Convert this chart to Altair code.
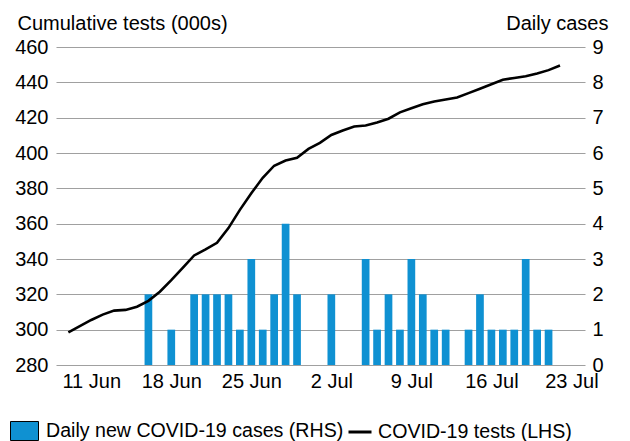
import altair as alt
import pandas as pd

# ---- data ----
line_dates = [
    "2020-06-09", "2020-06-10", "2020-06-11", "2020-06-12", "2020-06-13", "2020-06-14",
    "2020-06-15", "2020-06-16", "2020-06-17", "2020-06-18", "2020-06-19", "2020-06-20",
    "2020-06-21", "2020-06-22", "2020-06-23", "2020-06-24", "2020-06-25", "2020-06-26",
    "2020-06-27", "2020-06-28", "2020-06-29", "2020-06-30", "2020-07-01", "2020-07-02",
    "2020-07-03", "2020-07-04", "2020-07-05", "2020-07-06", "2020-07-07", "2020-07-08",
    "2020-07-09", "2020-07-10", "2020-07-11", "2020-07-12", "2020-07-13", "2020-07-14",
    "2020-07-15", "2020-07-16", "2020-07-17", "2020-07-18", "2020-07-19", "2020-07-20",
    "2020-07-21", "2020-07-22",
]
tests = [
    298.5, 302.0, 305.5, 308.5, 310.8, 311.2,
    313.0, 316.3, 321.5, 328.0, 335.0, 342.0,
    345.4, 349.2, 357.5, 367.8, 377.2, 386.0,
    392.8, 395.7, 397.3, 402.3, 405.7, 410.2,
    412.7, 415.0, 415.6, 417.3, 419.4, 423.0,
    425.3, 427.6, 429.1, 430.3, 431.4, 433.9,
    436.4, 438.9, 441.5, 442.5, 443.4, 445.0,
    446.9, 449.5,
]

bar_dates = [
    "2020-06-16", "2020-06-18", "2020-06-20", "2020-06-21", "2020-06-22", "2020-06-23",
    "2020-06-24", "2020-06-25", "2020-06-26", "2020-06-27", "2020-06-28", "2020-06-29",
    "2020-07-02", "2020-07-05", "2020-07-06", "2020-07-07", "2020-07-08", "2020-07-09",
    "2020-07-10", "2020-07-11", "2020-07-12", "2020-07-14", "2020-07-15", "2020-07-16",
    "2020-07-17", "2020-07-18", "2020-07-19", "2020-07-20", "2020-07-21",
]
cases = [
    2, 1, 2, 2, 2, 2,
    1, 3, 1, 2, 4, 2,
    2, 3, 1, 2, 1, 3,
    2, 1, 1, 1, 2, 1,
    1, 1, 3, 1, 1,
]

x_ticks = ["2020-06-11", "2020-06-18", "2020-06-25", "2020-07-02",
           "2020-07-09", "2020-07-16", "2020-07-23"]
left_ticks = [280, 300, 320, 340, 360, 380, 400, 420, 440, 460]
right_ticks = [0, 1, 2, 3, 4, 5, 6, 7, 8, 9]

bar_name = "Daily new COVID-19 cases (RHS)"
line_name = "COVID-19 tests (LHS)"

# ---- styling ----
FONT = "Liberation Sans"
BLUE = "#0f91d2"
GRID = "#a0a0a0"


def dt(s, hours=0, minutes=0):
    y, m, d = (int(p) for p in s.split("-"))
    return alt.DateTime(year=y, month=m, date=d, hours=hours, minutes=minutes, utc=True)


bars_df = pd.DataFrame({"date": bar_dates, "cases": cases, "series": bar_name})
line_df = pd.DataFrame({"date": line_dates, "tests": tests, "series": line_name})

x_enc = alt.X(
    "date:T",
    scale=alt.Scale(type="utc", domain=[dt("2020-06-08", 8, 30), dt("2020-07-23", 18)]),
    axis=alt.Axis(
        values=[dt(s) for s in x_ticks],
        labelExpr="utcFormat(datum.value, '%-d %b')",
        title=None,
        grid=False,
        domain=False,
        ticks=False,
        tickSize=0,
        labelPadding=6,
        labelFont=FONT,
        labelFontSize=20,
        labelColor="black",
        labelOverlap=False,
        labelBound=False,
        labelFlush=False,
    ),
)

bars = alt.Chart(bars_df).mark_bar(width=7.7).encode(
    x=x_enc,
    y=alt.Y(
        "cases:Q",
        scale=alt.Scale(domain=[0, 9], nice=False),
        axis=alt.Axis(
            orient="right",
            values=right_ticks,
            title="Daily cases",
            titleAngle=0,
            titleX=23,
            titleY=-18,
            titleAlign="right",
            titleBaseline="alphabetic",
            titleFont=FONT,
            titleFontSize=20,
            titleFontWeight="normal",
            titleColor="black",
            grid=False,
            domain=False,
            ticks=False,
            tickSize=0,
            labelPadding=7,
            labelFont=FONT,
            labelFontSize=20,
            labelColor="black",
        ),
    ),
    fill=alt.Fill(
        "series:N",
        scale=alt.Scale(domain=[bar_name], range=[BLUE]),
        legend=alt.Legend(
            orient="none",
            legendX=-46,
            legendY=369.5,
            title=None,
            padding=0,
            symbolType="M-1,-0.679L1,-0.679L1,0.679L-1,0.679Z",
            symbolSize=784,
            symbolStrokeColor="black",
            symbolStrokeWidth=1,
            symbolOpacity=1,
            labelFont=FONT,
            labelFontSize=19.6,
            labelColor="black",
            labelOffset=7,
            labelLimit=500,
        ),
    ),
)

line = alt.Chart(line_df).mark_line(strokeWidth=2.6, color="black").encode(
    x=x_enc,
    y=alt.Y(
        "tests:Q",
        scale=alt.Scale(domain=[280, 460], nice=False, zero=False),
        axis=alt.Axis(
            orient="left",
            values=left_ticks,
            title="Cumulative tests (000s)",
            titleAngle=0,
            titleX=-39,
            titleY=-18,
            titleAlign="left",
            titleBaseline="alphabetic",
            titleFont=FONT,
            titleFontSize=20,
            titleFontWeight="normal",
            titleColor="black",
            grid=True,
            gridColor=GRID,
            gridWidth=1.2,
            domain=False,
            ticks=False,
            tickSize=0,
            labelPadding=8,
            labelFont=FONT,
            labelFontSize=20,
            labelColor="black",
        ),
    ),
    stroke=alt.Stroke(
        "series:N",
        scale=alt.Scale(domain=[line_name], range=["black"]),
        legend=alt.Legend(
            orient="none",
            legendX=291,
            legendY=372,
            title=None,
            padding=0,
            symbolType="stroke",
            symbolSize=529,
            symbolStrokeWidth=3,
            labelFont=FONT,
            labelFontSize=19.6,
            labelColor="black",
            labelOffset=5,
            labelLimit=500,
        ),
    ),
)

chart = (
    alt.layer(bars, line)
    .resolve_scale(y="independent", fill="independent", stroke="independent")
    .properties(
        width=529,
        height=318,
        autosize=alt.AutoSizeParams(type="none"),
        padding={"left": 48, "top": 39, "right": 32, "bottom": 76},
        background="white",
    )
    .configure_view(stroke=None)
)

chart.save("out.html", embed_options={"renderer": "svg", "actions": False})
